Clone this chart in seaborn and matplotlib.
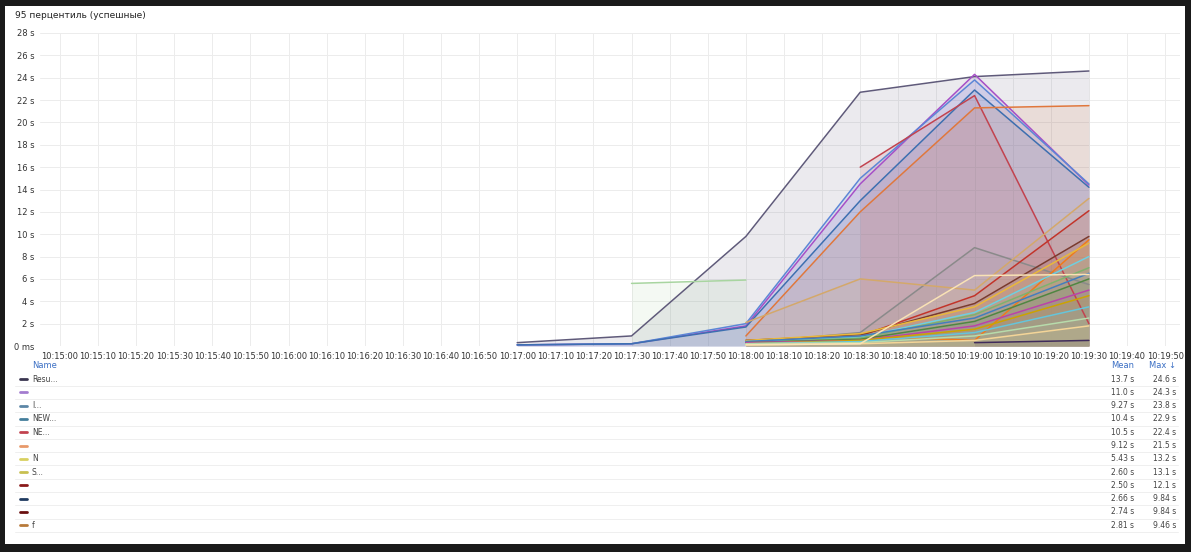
import numpy as np
import pandas as pd
import matplotlib
matplotlib.use("Agg")
import matplotlib.pyplot as plt
import seaborn as sns
from matplotlib.patches import Rectangle

sns.set_style("white")
plt.rcParams['font.family'] = ['DejaVu Sans']

times = [120, 150, 180, 210, 240, 270]  # seconds after 10:15:00
nan = np.nan
series_names = ["s1", "s2", "s3", "s4", "s5", "s6", "s7", "s8", "s9", "s10", "s11", "s12",
                "s13", "s14", "s15", "s16", "s17", "s18", "s19", "s20", "s21", "s22", "s23", "s24"]
series_values = [
    [0.3, 0.9, 9.8, 22.7, 24.1, 24.6],
    [0.1, 0.2, 1.8, 14.5, 24.3, 14.4],
    [0.1, 0.2, 2.0, 15.0, 23.8, 14.5],
    [0.1, 0.2, 1.7, 13.0, 22.9, 14.2],
    [nan, nan, nan, 16.0, 22.4, 2.0],
    [nan, nan, 0.9, 12.0, 21.3, 21.5],
    [nan, 5.6, 5.9, nan, nan, nan],
    [nan, nan, 0.3, 1.2, 8.8, 5.5],
    [nan, nan, 2.1, 6.0, 5.0, 13.2],
    [nan, nan, 0.5, 0.9, 4.5, 12.1],
    [nan, nan, 0.5, 1.0, 3.8, 9.8],
    [nan, nan, 0.4, 0.9, 0.5, 9.5],
    [nan, nan, 0.5, 1.1, 3.5, 9.2],
    [nan, nan, 0.4, 0.8, 3.0, 8.0],
    [nan, nan, 0.3, 0.7, 2.8, 7.0],
    [nan, nan, 0.4, 0.9, 2.5, 6.5],
    [nan, nan, 0.3, 0.6, 2.2, 6.0],
    [nan, nan, 0.3, 0.5, 1.8, 5.0],
    [nan, nan, 0.2, 0.5, 1.5, 4.5],
    [nan, nan, 0.2, 0.4, 1.2, 3.5],
    [nan, nan, 0.2, 0.3, 0.9, 2.5],
    [nan, nan, 0.1, 0.2, 0.5, 1.8],
    [nan, nan, nan, nan, 0.3, 0.5],
    [nan, nan, 0.1, 0.2, 6.3, 6.4],
]
palette = ["#5f5a7a", "#a64fc7", "#5c86d6", "#3d6fb0", "#c2434f", "#e0773c", "#a8d5a0",
           "#8a8a8a", "#d4a86a", "#c2342a", "#7a3b2e", "#f07a1a", "#eab839", "#6ed0e0",
           "#7eb26d", "#447ebc", "#508642", "#ba43a9", "#cca300", "#65c5db", "#b7dbab",
           "#f4d598", "#3f2b5b", "#f9e2b5"]

legend_names = ["Resu...", "", "I...", "NEW...", "NE...", "", "N", "S...", "", "", "", "f"]
legend_colors = ["#3a3550", "#a37ccf", "#5c86a6", "#447e9c", "#c2434f", "#e8996a",
                 "#d8d060", "#c8c050", "#8a1a1a", "#1f3a60", "#6a1010", "#b87a3a"]
legend_mean = ["13.7 s", "11.0 s", "9.27 s", "10.4 s", "10.5 s", "9.12 s", "5.43 s",
               "2.60 s", "2.50 s", "2.66 s", "2.74 s", "2.81 s"]
legend_max = ["24.6 s", "24.3 s", "23.8 s", "22.9 s", "22.4 s", "21.5 s", "13.2 s",
              "13.1 s", "12.1 s", "9.84 s", "9.84 s", "9.46 s"]

W, H = 1191, 552
fig = plt.figure(figsize=(W / 100, H / 100), dpi=100, facecolor="#1a1a1a")
fig.patches.append(Rectangle((5 / W, 8 / H), 1180 / W, 538 / H, transform=fig.transFigure,
                             facecolor="white", edgecolor="none", zorder=-10))
ax = fig.add_axes([40 / W, 1 - 346 / H, 1140 / W, 313 / H])
ax.set_facecolor("none")

for name, vals, col in zip(series_names, series_values, palette):
    df = pd.DataFrame({"t": times, "v": vals}).dropna()
    ax.fill_between(df["t"], 0, df["v"], color=col, alpha=0.12, linewidth=0)
    sns.lineplot(data=df, x="t", y="v", ax=ax, color=col, linewidth=1.1, legend=False)

ax.set_xlim(-5.2, 293.9)
ax.set_ylim(0, 28)
xt = list(range(0, 300, 10))
ax.set_xticks(xt)
ax.set_xticklabels([f"10:{15 + s // 60}:{s % 60:02d}" for s in xt], fontsize=6, color="#333")
yt = list(range(0, 29, 2))
ax.set_yticks(yt)
ax.set_yticklabels(["0 ms"] + [f"{v} s" for v in yt[1:]], fontsize=6, color="#333")
ax.grid(True, color="#ececec", linewidth=0.7)
for s in ax.spines.values():
    s.set_visible(False)
ax.tick_params(length=0, pad=4)
ax.set_xlabel("")
ax.set_ylabel("")

fig.text(15 / W, 1 - 15 / H, "95 перцентиль (успешные)", fontsize=6.5, color="#222", va="center")

# legend table
fig.text(32 / W, 1 - 365 / H, "Name", fontsize=6, color="#3b6fc4", va="center")
fig.text(1134 / W, 1 - 365 / H, "Mean", fontsize=6, color="#3b6fc4", va="center", ha="right")
fig.text(1176 / W, 1 - 365 / H, "Max ↓", fontsize=6, color="#3b6fc4", va="center", ha="right")
for i in range(len(legend_names)):
    y = 379 + i * 13.3
    fig.lines.append(plt.Line2D([20 / W, 27 / W], [1 - y / H] * 2, transform=fig.transFigure,
                                color=legend_colors[i], linewidth=2))
    fig.text(32 / W, 1 - y / H, legend_names[i], fontsize=5.5, color="#444", va="center")
    fig.text(1134 / W, 1 - y / H, legend_mean[i], fontsize=5.5, color="#444", va="center", ha="right")
    fig.text(1176 / W, 1 - y / H, legend_max[i], fontsize=5.5, color="#444", va="center", ha="right")
    fig.lines.append(plt.Line2D([15 / W, 1178 / W], [1 - (y + 6.6) / H] * 2, transform=fig.transFigure,
                                color="#ececec", linewidth=0.6))

fig.savefig("out.png", dpi=100, facecolor=fig.get_facecolor())
